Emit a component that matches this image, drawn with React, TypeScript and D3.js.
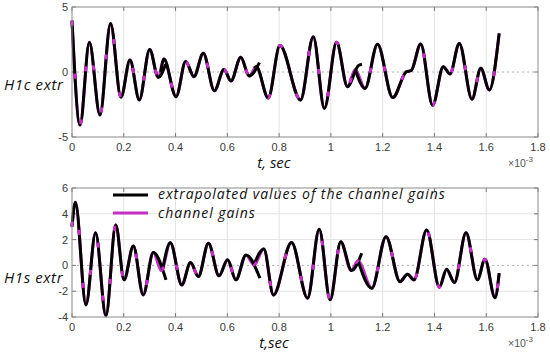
import React from 'react';
import * as d3 from 'd3';

// --- data (t in ms, i.e. x 1e-3 s) ---
const xTicks = [0, 0.2, 0.4, 0.6, 0.8, 1, 1.2, 1.4, 1.6, 1.8];
const topYTicks = [-5, 0, 5];
const botYTicks = [-4, -2, 0, 2, 4, 6];

// channel gains, upper panel (H1c)
const topGains: [number, number][] = [
  [0, 3.95], [0.031, -4.08], [0.067, 2.28], [0.108, -3.3], [0.149, 3.74], [0.189, -1.95],
  [0.224, 0.92], [0.26, -2.15], [0.3, 1.74], [0.333, -0.41], [0.355, 1.0], [0.402, -1.9],
  [0.439, 0.8], [0.471, -0.36], [0.507, 1.44], [0.55, -1.44], [0.587, 0.2], [0.614, -0.69],
  [0.652, 1.13], [0.684, -0.31], [0.712, 0.4], [0.758, -2.0], [0.803, 2.03], [0.883, -2.15],
  [0.932, 2.72], [0.975, -2.8], [1.022, 2.28], [1.064, -1.13], [1.094, 0.2], [1.132, -1.26],
  [1.18, 2.13], [1.239, -1.97], [1.292, 0.03], [1.31, 0.1], [1.347, 2.15], [1.393, -2.56],
  [1.434, 0.41], [1.46, -0.15], [1.496, 2.2], [1.545, -2.1], [1.579, 0.28], [1.612, -1.38],
  [1.65, 2.97],
];

// extrapolated values, upper panel, one block per prediction interval
const topExtr: [number, number][][] = [
  [[0, 3.95], [0.031, -4.08], [0.067, 2.28], [0.108, -3.3], [0.149, 3.74], [0.189, -1.95],
   [0.224, 0.92], [0.26, -2.15], [0.3, 1.74], [0.333, -0.41], [0.362, 0.6]],
  [[0.343, 0.0], [0.355, 1.0], [0.402, -1.9], [0.439, 0.8], [0.471, -0.36], [0.507, 1.44],
   [0.55, -1.44], [0.587, 0.2], [0.614, -0.69], [0.652, 1.13], [0.684, -0.31], [0.724, 0.72]],
  [[0.703, 0.3], [0.712, 0.4], [0.758, -2.0], [0.803, 2.03], [0.883, -2.15], [0.932, 2.72],
   [0.975, -2.8], [1.022, 2.28], [1.064, -1.13], [1.106, 0.49], [1.12, 0.6]],
  [[1.094, 0.2], [1.132, -1.26], [1.18, 2.13], [1.239, -1.97], [1.292, 0.03], [1.31, 0.1],
   [1.347, 2.15], [1.393, -2.56], [1.434, 0.41], [1.46, -0.15], [1.496, 2.2], [1.545, -2.1],
   [1.579, 0.28], [1.612, -1.38], [1.65, 2.97]],
];

// channel gains, lower panel (H1s)
const botGains: [number, number][] = [
  [0, 3.0], [0.013, 4.9], [0.054, -3.06], [0.091, 2.54], [0.131, -3.9], [0.169, 3.14],
  [0.201, -1.12], [0.237, 1.51], [0.275, -2.29], [0.314, 1.0], [0.345, -0.4], [0.38, 1.75],
  [0.424, -1.51], [0.458, 0.22], [0.488, -0.87], [0.527, 1.72], [0.568, -0.81], [0.601, 0.43],
  [0.633, -1.12], [0.672, 0.81], [0.703, 0.05], [0.741, 1.28], [0.778, -2.29], [0.848, 1.77],
  [0.91, -2.54], [0.955, 2.8], [0.997, -2.67], [1.038, 1.84], [1.078, -0.4], [1.105, 0.35],
  [1.158, -1.77], [1.213, 2.23], [1.267, -1.26], [1.296, -0.68], [1.321, -1.12], [1.37, 2.75],
  [1.419, -1.69], [1.447, -0.3], [1.477, -1.33], [1.522, 2.54], [1.566, -1.12], [1.595, 0.48],
  [1.634, -2.5], [1.65, -0.6],
];

// extrapolated values, lower panel
const botExtr: [number, number][][] = [
  [[0, 3.0], [0.013, 4.9], [0.054, -3.06], [0.091, 2.54], [0.131, -3.9], [0.169, 3.14],
   [0.201, -1.12], [0.237, 1.51], [0.275, -2.29], [0.314, 1.0], [0.363, -1.12]],
  [[0.35, -0.3], [0.38, 1.75], [0.424, -1.51], [0.458, 0.22], [0.488, -0.87], [0.527, 1.72],
   [0.568, -0.81], [0.601, 0.43], [0.633, -1.12], [0.672, 0.81], [0.726, -1.0]],
  [[0.703, 0.05], [0.741, 1.28], [0.778, -2.29], [0.848, 1.77], [0.91, -2.54], [0.955, 2.8],
   [0.997, -2.67], [1.038, 1.84], [1.08, -0.4], [1.119, 0.94]],
  [[1.105, 0.35], [1.158, -1.77], [1.213, 2.23], [1.267, -1.26], [1.296, -0.68], [1.321, -1.12],
   [1.37, 2.75], [1.419, -1.69], [1.447, -0.3], [1.477, -1.33], [1.522, 2.54], [1.566, -1.12],
   [1.595, 0.48], [1.634, -2.5], [1.65, -0.6]],
];

const MAGENTA = '#c62fc6';
const tickFont = '"Liberation Sans", Arial, sans-serif';
const labelFont = '"Open Sans", sans-serif';
const fmt = (d: number) => String(+d.toFixed(1));

type PanelProps = {
  top: number;
  bottom: number;
  yDomain: [number, number];
  yTicks: number[];
  gains: [number, number][];
  extr: [number, number][][];
  yLabel: string;
  xLabel: string;
};

const Panel = ({ top, bottom, yDomain, yTicks, gains, extr, yLabel, xLabel }: PanelProps) => {
  const left = 72, right = 538;
  const x = d3.scaleLinear().domain([0, 1.8]).range([left, right]);
  const y = d3.scaleLinear().domain(yDomain).range([bottom, top]);
  const line = d3.line<[number, number]>()
    .x(d => x(d[0]))
    .y(d => y(d[1]))
    .curve(d3.curveMonotoneX);

  return (
    <g>
      {/* grid */}
      {xTicks.slice(1, -1).map(t => (
        <line key={'gx' + t} x1={x(t)} x2={x(t)} y1={top} y2={bottom} stroke="#e3e3e3" strokeWidth={1} />
      ))}
      {yTicks.slice(1, -1).map(t => (
        <line key={'gy' + t} x1={left} x2={right} y1={y(t)} y2={y(t)}
          stroke={t === 0 ? '#b0b0b0' : '#e3e3e3'} strokeWidth={1}
          strokeDasharray={t === 0 ? '2,3' : undefined} />
      ))}
      {/* ticks */}
      {xTicks.map(t => (
        <g key={'tx' + t}>
          <line x1={x(t)} x2={x(t)} y1={bottom} y2={bottom - 4} stroke="#7a7a7a" />
          <line x1={x(t)} x2={x(t)} y1={top} y2={top + 4} stroke="#7a7a7a" />
          <text x={x(t)} y={bottom + 14} textAnchor="middle" fontFamily={tickFont} fontSize={11} fill="#3a3a3a">{fmt(t)}</text>
        </g>
      ))}
      {yTicks.map(t => (
        <g key={'ty' + t}>
          <line x1={left} x2={left + 4} y1={y(t)} y2={y(t)} stroke="#7a7a7a" />
          <line x1={right} x2={right - 4} y1={y(t)} y2={y(t)} stroke="#7a7a7a" />
          <text x={left - 4} y={y(t) + 4} textAnchor="end" fontFamily={tickFont} fontSize={11} fill="#3a3a3a">{t}</text>
        </g>
      ))}
      {/* curves */}
      <path d={line(gains) || ''} fill="none" stroke={MAGENTA} strokeWidth={3} />
      {extr.map((seg, i) => (
        <path key={'e' + i} d={line(seg) || ''} fill="none" stroke="#000" strokeWidth={3} strokeLinejoin="round" />
      ))}
      <path d={line(gains) || ''} fill="none" stroke={MAGENTA} strokeWidth={3} strokeDasharray="5,48" />
      {/* box */}
      <rect x={left} y={top} width={right - left} height={bottom - top} fill="none" stroke="#8a8a8a" strokeWidth={1} />
      {/* labels */}
      <text x={4} y={y(0) + 18} fontFamily={labelFont} fontStyle="italic" fontSize={15} letterSpacing={0.6} fill="#111">{yLabel}</text>
      <text x={274} y={bottom + 31} textAnchor="middle" fontFamily={labelFont} fontStyle="italic" fontSize={15} fill="#111">{xLabel}</text>
      <text x={508} y={bottom + 30} fontFamily={tickFont} fontSize={10.5} fill="#555">
        ×10<tspan dy={-5} fontSize={8}>-3</tspan>
      </text>
    </g>
  );
};

export default function App() {
  return (
    <svg width={550} height={356} style={{ position: 'absolute', left: 0, top: 0, background: '#fff' }}>
      <rect width={550} height={356} fill="#fff" />
      <Panel top={7} bottom={137} yDomain={[-5, 5]} yTicks={topYTicks} gains={topGains}
        extr={topExtr} yLabel="H1c extr" xLabel="t, sec" />
      <Panel top={188} bottom={317} yDomain={[-4, 6]} yTicks={botYTicks} gains={botGains}
        extr={botExtr} yLabel="H1s extr" xLabel="t,sec" />
      {/* legend */}
      <line x1={113} x2={148} y1={195} y2={195} stroke="#000" strokeWidth={3} />
      <line x1={113} x2={148} y1={213} y2={213} stroke={MAGENTA} strokeWidth={3} />
      <text x={158} y={198.5} fontFamily={labelFont} fontStyle="italic" fontSize={14} letterSpacing={0.95} fill="#111">extrapolated values of the channel gains</text>
      <text x={158} y={217.5} fontFamily={labelFont} fontStyle="italic" fontSize={14} letterSpacing={0.95} fill="#111">channel gains</text>
    </svg>
  );
}
